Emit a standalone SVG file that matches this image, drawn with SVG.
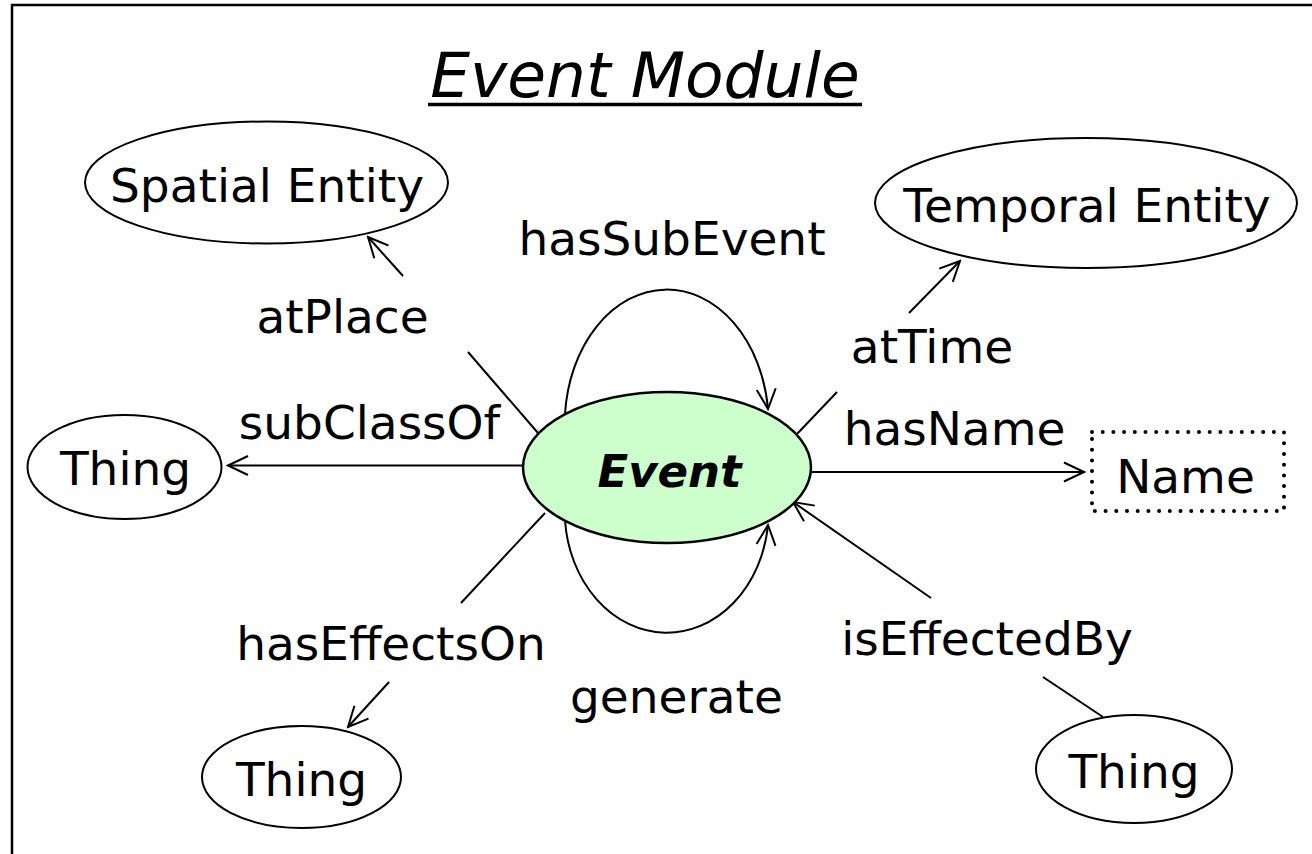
<svg xmlns="http://www.w3.org/2000/svg" width="1312" height="854" viewBox="0 0 1312 854">
  <defs>
    <marker id="open-arrow" viewBox="-22 -12 24 24" markerWidth="24" markerHeight="24" refX="0" refY="0" orient="auto" markerUnits="userSpaceOnUse">
      <path d="M-20,-9.5 L0,0 L-20,9.5" fill="none" stroke="#000" stroke-width="2"/>
    </marker>
  </defs>
  <style>
    text { font-family: "DejaVu Sans", Verdana, sans-serif; font-size: 47px; fill: #000; text-anchor: middle; }
    .title { font-size: 63px; font-style: italic; }
    .main { font-size: 45px; font-weight: bold; font-style: italic; }
    .node { fill: #fff; stroke: #000; stroke-width: 2; }
    .core { fill: #ccffcc; stroke: #000; stroke-width: 2.5; }
    .edge { fill: none; stroke: #000; stroke-width: 2; }
    .arrow { marker-end: url(#open-arrow); }
  </style>

  <rect x="0" y="0" width="1312" height="854" fill="#fff"/>
  <!-- outer frame -->
  <rect x="12" y="5" width="1320" height="880" fill="none" stroke="#000" stroke-width="2.5"/>

  <!-- heading -->
  <g id="title">
    <text class="title" x="645" y="97">Event Module</text>
    <line x1="428" y1="104.5" x2="862" y2="104.5" stroke="#000" stroke-width="3.5"/>
  </g>

  <!-- connectors -->
  <g id="connectors">
    <!-- atPlace -->
    <line class="edge" x1="538" y1="433" x2="468" y2="352"/>
    <line class="edge arrow" x1="403" y1="276" x2="368" y2="237"/>
    <!-- atTime -->
    <line class="edge" x1="797" y1="434" x2="837" y2="392"/>
    <line class="edge arrow" x1="909" y1="313" x2="960" y2="261"/>
    <!-- subClassOf -->
    <line class="edge arrow" x1="523" y1="465.5" x2="228" y2="465.5"/>
    <!-- hasName -->
    <line class="edge arrow" x1="811" y1="472" x2="1084" y2="472"/>
    <!-- hasEffectsOn -->
    <line class="edge" x1="545" y1="513" x2="461" y2="603"/>
    <line class="edge arrow" x1="389" y1="682" x2="348" y2="727"/>
    <!-- isEffectedBy -->
    <line class="edge" x1="1103" y1="717" x2="1043" y2="677"/>
    <line class="edge arrow" x1="931" y1="598" x2="793" y2="502"/>
    <!-- hasSubEvent loop -->
    <path class="edge arrow" d="M565,414 A102,135 0 0 1 768,409"/>
    <!-- generate loop -->
    <path class="edge arrow" d="M565,520 A102,122 0 0 0 768,525"/>
  </g>

  <!-- connector labels -->
  <g id="labels">
    <text x="672" y="255">hasSubEvent</text>
    <text x="342.5" y="333">atPlace</text>
    <text x="932" y="363">atTime</text>
    <text x="369.5" y="439">subClassOf</text>
    <text x="954.5" y="445">hasName</text>
    <text x="391" y="660">hasEffectsOn</text>
    <text x="987" y="655">isEffectedBy</text>
    <text x="676.5" y="713">generate</text>
  </g>

  <g id="node-event">
    <ellipse class="core" cx="667" cy="467.5" rx="144" ry="75.5"/>
    <text class="main" x="669.5" y="487">Event</text>
  </g>

  <g id="node-spatial-entity">
    <ellipse class="node" cx="266.5" cy="182.5" rx="181.5" ry="61"/>
    <text x="267" y="202">Spatial Entity</text>
  </g>

  <g id="node-temporal-entity">
    <ellipse class="node" cx="1086" cy="203" rx="211" ry="65"/>
    <text x="1087" y="222">Temporal Entity</text>
  </g>

  <g id="node-thing-superclass">
    <ellipse class="node" cx="124.5" cy="467" rx="97" ry="52"/>
    <text x="125.5" y="485">Thing</text>
  </g>

  <g id="node-name">
    <rect x="1092" y="432" width="192" height="79" fill="none" stroke="#000" stroke-width="4" stroke-linecap="round" stroke-dasharray="0 10.7"/>
    <text x="1185.5" y="493">Name</text>
  </g>

  <g id="node-thing-effected">
    <ellipse class="node" cx="301.5" cy="777" rx="99.5" ry="51"/>
    <text x="301.5" y="796">Thing</text>
  </g>

  <g id="node-thing-effector">
    <ellipse class="node" cx="1134" cy="769" rx="98" ry="54"/>
    <text x="1134" y="788">Thing</text>
  </g>
</svg>
